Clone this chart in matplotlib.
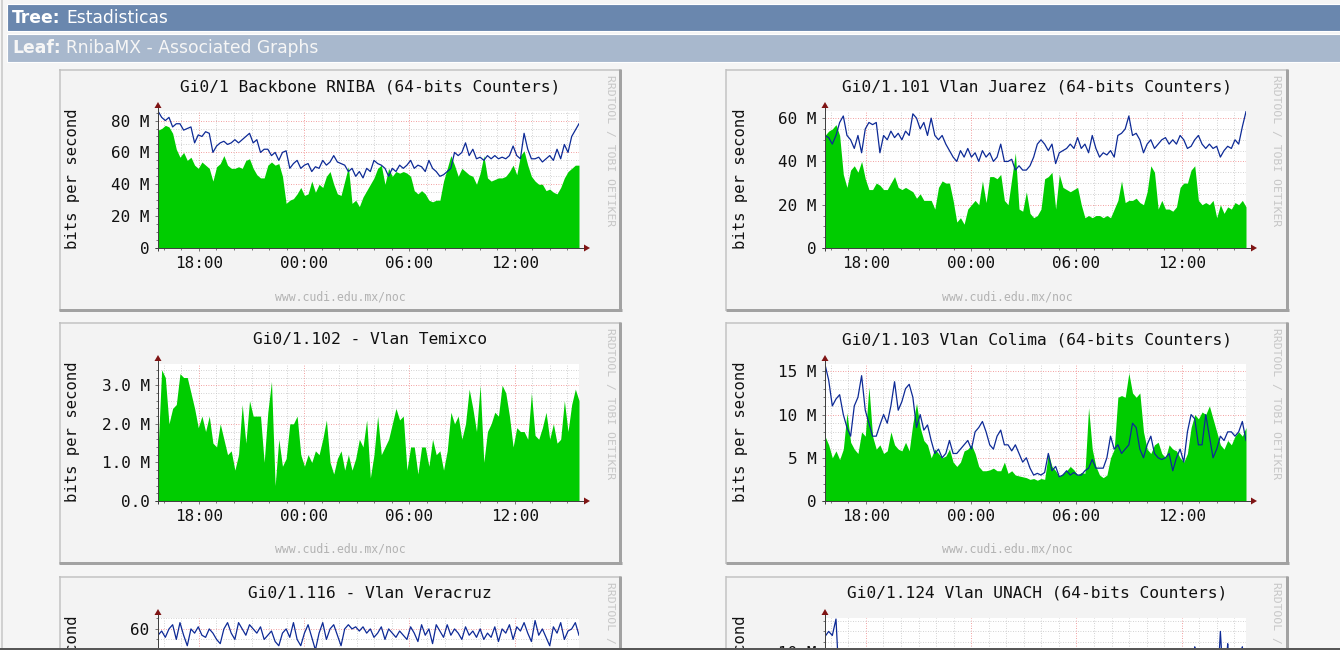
import numpy as np
import matplotlib
matplotlib.use('Agg')
import matplotlib.pyplot as plt
from matplotlib.patches import Rectangle, Polygon
from matplotlib.lines import Line2D

W, H = 1340, 650

# ------------------------------ data ------------------------------#
# time axis: 24 h window starting 15:40, labels every 6 h
start_hour = 15 + 40 / 60
x_labels = ['18:00', '00:00', '06:00', '12:00']
x_label_hours = [18, 0, 6, 12]

# Gi0/1 Backbone RNIBA (Mbit/s)
backbone_in = [74, 75, 77, 76, 72, 62, 57, 60, 55, 57, 52, 50, 54, 52, 50, 42, 51, 53, 58, 52,
               50, 50, 51, 50, 55, 56, 50, 46, 44, 44, 52, 54, 52, 53, 45, 28, 30, 31, 34, 38,
               33, 34, 42, 35, 40, 38, 45, 48, 40, 34, 33, 42, 51, 28, 30, 26, 32, 36, 40, 44,
               50, 52, 40, 50, 45, 48, 47, 48, 47, 45, 36, 34, 36, 34, 30, 29, 30, 30, 42, 50,
               58, 52, 45, 50, 48, 46, 45, 40, 47, 58, 44, 42, 43, 44, 44, 45, 48, 52, 46, 58,
               61, 52, 45, 42, 40, 40, 36, 37, 35, 34, 38, 44, 48, 50, 52, 52]
backbone_out = [86, 82, 80, 82, 76, 78, 78, 74, 75, 76, 66, 71, 70, 73, 72, 60, 64, 66, 67, 65,
                66, 68, 66, 68, 70, 72, 66, 68, 60, 62, 62, 58, 60, 55, 60, 61, 50, 53, 55, 50,
                52, 53, 48, 51, 50, 55, 52, 54, 58, 54, 53, 52, 48, 50, 45, 48, 44, 50, 48, 55,
                53, 52, 50, 45, 50, 48, 52, 50, 52, 55, 50, 52, 51, 48, 55, 50, 48, 45, 46, 48,
                50, 60, 58, 60, 66, 58, 62, 56, 57, 55, 58, 56, 58, 56, 57, 56, 58, 64, 58, 56,
                72, 62, 56, 56, 57, 54, 56, 58, 55, 62, 56, 65, 60, 70, 74, 78]
backbone_ylabels = ['0', '20 M', '40 M', '60 M', '80 M']

# Gi0/1.101 Vlan Juarez (Mbit/s)
juarez_in = [52, 54, 55, 57, 52, 34, 28, 36, 38, 35, 40, 32, 27, 27, 30, 29, 27, 27, 30, 33,
             28, 27, 28, 27, 26, 23, 25, 22, 22, 22, 18, 28, 31, 30, 30, 22, 12, 14, 11, 18,
             20, 22, 20, 31, 21, 33, 33, 32, 34, 22, 20, 32, 44, 18, 17, 26, 16, 14, 15, 18,
             32, 33, 35, 18, 34, 28, 27, 26, 27, 28, 20, 14, 15, 14, 15, 15, 14, 15, 14, 18,
             22, 31, 21, 22, 22, 23, 21, 20, 26, 38, 35, 18, 22, 18, 18, 17, 19, 28, 30, 30,
             36, 38, 22, 20, 21, 20, 22, 14, 20, 16, 19, 18, 21, 20, 22, 19]
juarez_out = [52, 51, 48, 52, 58, 61, 52, 50, 46, 52, 44, 55, 58, 57, 58, 44, 52, 50, 54, 51,
              53, 50, 54, 52, 62, 60, 55, 58, 52, 60, 52, 50, 52, 48, 45, 42, 40, 45, 42, 46,
              42, 44, 40, 45, 42, 44, 40, 42, 48, 40, 40, 41, 36, 38, 36, 36, 38, 42, 48, 50,
              48, 45, 48, 39, 44, 45, 46, 48, 46, 51, 46, 48, 44, 52, 46, 42, 44, 43, 45, 42,
              52, 53, 55, 61, 52, 53, 50, 44, 48, 50, 46, 48, 50, 51, 48, 50, 48, 52, 50, 46,
              47, 50, 52, 48, 46, 48, 46, 47, 42, 45, 47, 46, 50, 48, 56, 63]
juarez_ylabels = ['0', '20 M', '40 M', '60 M']

# Gi0/1.102 - Vlan Temixco (Mbit/s)
temixco_in = [1.3, 3.4, 3.2, 2.0, 2.4, 2.5, 3.3, 3.2, 3.2, 2.8, 2.4, 1.9, 2.2, 1.8, 2.2, 1.5,
              1.4, 2.0, 1.6, 1.2, 1.3, 0.8, 1.2, 2.5, 1.5, 2.6, 2.2, 2.2, 2.2, 1.0, 2.3, 3.1,
              0.4, 1.6, 0.9, 1.1, 2.0, 2.0, 2.2, 1.2, 0.9, 1.2, 1.0, 1.3, 1.2, 1.6, 2.1, 1.0,
              0.7, 1.1, 1.3, 0.8, 1.2, 0.8, 1.1, 1.6, 1.4, 2.1, 0.6, 1.2, 2.2, 1.2, 1.4, 1.6,
              2.0, 2.4, 2.1, 2.2, 0.8, 1.4, 1.4, 0.7, 1.4, 1.4, 0.9, 1.6, 1.2, 1.3, 0.8, 1.3,
              2.3, 2.0, 2.2, 1.6, 2.0, 2.9, 2.4, 1.8, 3.0, 1.0, 1.8, 2.0, 2.3, 2.2, 3.0, 2.8,
              2.2, 1.4, 1.9, 1.8, 1.8, 1.6, 2.8, 1.7, 1.6, 1.9, 2.3, 1.6, 2.0, 1.5, 1.6, 2.6,
              1.8, 2.5, 2.9, 2.6]
temixco_ylabels = ['0.0', '1.0 M', '2.0 M', '3.0 M']

# Gi0/1.103 Vlan Colima (Mbit/s)
colima_in = [7.5, 6.5, 5.0, 5.8, 4.8, 6.0, 10.2, 6.8, 6.0, 5.5, 8.0, 7.5, 13.2, 7.5, 6.0, 6.5,
             5.5, 5.8, 8.0, 6.5, 6.0, 5.8, 6.8, 5.8, 9.0, 11.3, 8.5, 7.0, 6.5, 5.0, 6.0, 5.5,
             5.0, 5.2, 6.0, 4.5, 4.0, 4.5, 5.8, 6.0, 6.5, 5.5, 4.0, 3.5, 3.5, 3.6, 3.8, 3.5,
             3.5, 4.5, 3.2, 3.5, 3.0, 2.9, 2.8, 2.7, 2.5, 2.6, 2.4, 2.6, 2.5, 5.5, 4.0, 3.5,
             2.8, 3.2, 3.5, 4.0, 3.6, 3.0, 3.3, 3.2, 10.8, 6.0, 4.0, 3.0, 2.7, 3.0, 5.0, 6.0,
             12.0, 12.2, 12.0, 14.8, 12.5, 12.0, 12.5, 8.0, 6.0, 5.5, 6.5, 6.8, 5.5, 5.0, 6.5, 6.0,
             5.8, 5.0, 4.5, 5.5, 8.5, 10.0, 9.5, 10.3, 10.0, 11.0, 9.5, 8.0, 6.5, 6.0, 7.0, 6.5,
             7.5, 8.0, 7.5, 8.5]
colima_out = [15.8, 14.0, 11.0, 11.8, 12.3, 10.0, 8.5, 7.5, 11.0, 12.0, 14.5, 10.5, 9.0, 7.5, 7.5, 8.8,
              10.0, 9.0, 11.0, 13.8, 10.5, 11.5, 13.0, 13.5, 12.0, 8.5, 10.0, 8.2, 8.8, 7.0, 5.5, 6.0,
              5.0, 5.5, 7.0, 5.5, 5.5, 6.0, 6.5, 7.0, 6.0, 8.0, 8.5, 9.2, 8.0, 6.5, 6.0, 7.5,
              8.2, 6.5, 6.5, 5.8, 6.5, 5.5, 4.5, 5.0, 3.8, 3.0, 3.2, 3.0, 3.3, 5.5, 3.5, 4.0,
              2.8, 3.0, 3.5, 3.0, 3.3, 3.0, 3.0, 3.5, 3.8, 4.8, 3.8, 3.8, 3.8, 5.0, 7.5, 6.0,
              6.5, 5.5, 6.0, 6.5, 9.0, 8.5, 6.0, 5.0, 6.5, 7.5, 5.5, 5.0, 4.8, 5.0, 5.5, 3.5,
              5.0, 6.0, 4.5, 8.0, 10.0, 9.5, 6.5, 6.5, 10.0, 7.5, 5.0, 6.0, 7.5, 7.0, 8.0, 8.0,
              7.5, 8.0, 9.2, 7.0]
colima_ylabels = ['0', '5 M', '10 M', '15 M']

# Gi0/1.116 - Vlan Veracruz (bit/s)
veracruz_out = [57, 59, 56, 60, 62, 55, 63, 57, 52, 60, 58, 61, 57, 56, 60, 58, 55, 53, 60, 63,
                58, 55, 63, 60, 57, 62, 60, 58, 61, 55, 57, 59, 54, 52, 58, 60, 56, 63, 55, 52,
                58, 62, 56, 50, 58, 63, 55, 60, 62, 57, 52, 60, 62, 60, 61, 59, 61, 58, 60, 56,
                58, 61, 55, 60, 58, 56, 59, 57, 55, 61, 58, 54, 62, 57, 60, 53, 62, 59, 56, 62,
                57, 60, 58, 55, 61, 57, 59, 56, 60, 55, 58, 56, 61, 54, 60, 58, 62, 55, 61, 59,
                63, 58, 54, 64, 57, 60, 56, 52, 61, 58, 63, 55, 59, 60, 63, 57]
veracruz_ylabels = ['0', '20', '40', '60']

# Gi0/1.124 Vlan UNACH (Mbit/s)
unach_out = [11.5, 12.0, 11.6, 13.2, 6.2, 4.1, 3.6, 4.4, 3.9, 4.8, 3.5, 4.2, 3.8, 4.0, 4.6, 3.7,
             4.1, 3.9, 4.3, 3.6, 4.0, 4.5, 3.8, 4.2, 3.9, 4.1, 3.7, 4.4, 3.9, 4.0, 4.2, 3.8,
             4.6, 4.1, 3.9, 4.3, 3.7, 4.0, 4.2, 3.8, 4.1, 4.4, 3.9, 4.0, 3.6, 4.2, 4.5, 3.9,
             4.1, 3.8, 4.3, 4.0, 3.7, 4.2, 4.1, 3.9, 4.4, 4.0, 3.8, 4.1, 4.3, 3.9, 4.0, 4.2,
             3.7, 4.1, 4.5, 3.9, 4.0, 4.2, 3.8, 4.1, 4.4, 3.9, 4.0, 4.2, 3.8, 4.3, 4.1, 3.9,
             4.0, 4.4, 3.8, 4.2, 4.1, 3.9, 4.3, 4.0, 3.8, 4.2, 4.5, 4.1, 3.9, 4.2, 4.6, 4.0,
             4.3, 4.8, 5.2, 4.6, 5.0, 10.5, 5.5, 4.8, 5.1, 6.0, 5.4, 5.2, 12.0, 6.0, 10.8, 5.6,
             5.8, 6.2, 10.5, 6.0]
unach_ylabels = ['0', '5 M', '10 M']

GREEN = '#00cc00'
BLUE = '#0d2a96'
ARROW = '#7f1414'
MONO = 'DejaVu Sans Mono'


def fx(x):
    return x / W


def fy(y):
    return 1 - y / H


def lw(px):
    return px * 72 / 100


f = plt.figure(figsize=(W / 100, H / 100), dpi=100)
f.patch.set_facecolor('#f5f5f5')


def rect(x0, y0, x1, y1, z=-1, **kw):
    f.add_artist(Rectangle((fx(x0), fy(y1)), (x1 - x0) / W, (y1 - y0) / H,
                           transform=f.transFigure, zorder=z, **kw))


def line(x0, y0, x1, y1, color, width, z=2):
    f.add_artist(Line2D([fx(x0), fx(x1)], [fy(y0), fy(y1)], color=color,
                        linewidth=lw(width), transform=f.transFigure, zorder=z,
                        solid_capstyle='butt'))


def tri(points, color):
    f.add_artist(Polygon([(fx(a), fy(b)) for a, b in points], closed=True,
                         facecolor=color, edgecolor='none', transform=f.transFigure, zorder=3))


# --------------------------- page header ---------------------------#
line(2, 0, 2, 650, '#c6c6c6', 1.5)
rect(7, 3.5, 1341, 31, facecolor='#6a87ae', edgecolor='white', linewidth=0.8)
rect(7, 34, 1341, 61.5, facecolor='#a8b8cd', edgecolor='white', linewidth=0.8)
f.text(fx(12), fy(18), 'Tree:', family='DejaVu Sans', weight='bold', size=12.3,
       color='white', va='center')
f.text(fx(66), fy(18), 'Estadisticas', family='DejaVu Sans', size=12.3,
       color='white', va='center')
f.text(fx(12), fy(48), 'Leaf:', family='DejaVu Sans', weight='bold', size=12.3,
       color='#f6f6f6', va='center')
f.text(fx(66), fy(48), 'RnibaMX - Associated Graphs', family='DejaVu Sans', size=12.3,
       color='#f6f6f6', va='center')


# ----------------------------- graphs ------------------------------#
def draw_graph(bx, by, title, ylabels, ystep, yminor, ymax, green=None, blue=None):
    base = by + 179          # pixel row of the zero line
    # rrdtool image frame
    rect(bx, by, bx + 562, by + 242, facecolor='#f3f3f3', edgecolor='none')
    line(bx, by + 0.5, bx + 562, by + 0.5, '#c2c2c2', 1.5)
    line(bx + 0.5, by, bx + 0.5, by + 242, '#c2c2c2', 1.5)
    line(bx + 561, by, bx + 561, by + 242, '#a2a2a2', 3)
    line(bx, by + 240.5, bx + 562.5, by + 240.5, '#a2a2a2', 3)

    ax = f.add_axes([fx(bx + 99), fy(base), 421 / W, 137 / H])
    ax.set_facecolor('white')
    ax.set_xlim(0, 24)
    ax.set_ylim(0, ymax)
    for s in ax.spines.values():
        s.set_visible(False)

    major_x = [(h - start_hour) % 24 for h in x_label_hours]
    yticks = [i * ystep for i in range(len(ylabels))]
    ax.set_xticks(major_x)
    ax.set_xticks(np.arange(1 / 3, 24, 1), minor=True)
    ax.set_yticks(yticks)
    ax.set_yticks(np.arange(0, ymax, yminor), minor=True)
    # labels that would sit entirely below the window are left empty
    ax.set_xticklabels(x_labels if base + 20 < H else [''] * len(x_labels))
    ax.set_yticklabels([lab if base - v / ymax * 137 - 6 < H else ''
                        for v, lab in zip(yticks, ylabels)])
    ax.grid(True, which='minor', color='#c4c4c4', linestyle=(0, (1, 2)), linewidth=0.6)
    ax.grid(True, which='major', color='#ee8080', linestyle=(0, (1, 2)), linewidth=0.6)
    ax.set_axisbelow(True)
    ax.tick_params(which='both', direction='out', color='#606060', width=0.6,
                   labelsize=11.5, labelcolor='#111111')
    ax.tick_params(which='major', length=2.5)
    ax.tick_params(which='minor', length=1.5)
    ax.tick_params(axis='y', pad=3.5)
    ax.tick_params(axis='x', pad=3.0)
    for lab in ax.get_xticklabels() + ax.get_yticklabels():
        lab.set_family(MONO)

    if green is not None:
        t = np.linspace(0, 24, len(green))
        ax.fill_between(t, 0, green, color=GREEN, linewidth=0, zorder=2)
    if blue is not None:
        t = np.linspace(0, 24, len(blue))
        ax.plot(t, blue, color=BLUE, linewidth=0.9, zorder=3)

    # axes with arrow heads
    line(bx + 99, base + 3, bx + 99, by + 38, '#404040', 1)
    line(bx + 96, base, bx + 525, base, '#404040', 1)
    tri([(bx + 99, by + 33), (bx + 95.5, by + 39), (bx + 102.5, by + 39)], ARROW)
    tri([(bx + 531, base), (bx + 525, base - 3.5), (bx + 525, base + 3.5)], ARROW)

    f.text(fx(bx + 311), fy(by + 17.5), title, family=MONO, size=11.7,
           ha='center', va='center', color='#111111')
    f.text(fx(bx + 14), fy(by + 110), 'bits per second', family=MONO, size=11.2,
           rotation=90, ha='center', va='center', color='#111111')
    f.text(fx(bx + 550.5), fy(by + 6), 'RRDTOOL / TOBI OETIKER', family=MONO, size=8.2,
           rotation=-90, ha='center', va='top', color='#c6c6c6')
    if by + 235 < H:
        f.text(fx(bx + 281), fy(by + 227.5), 'www.cudi.edu.mx/noc', family=MONO, size=8.3,
               ha='center', va='center', color='#b2b2b2')
    return ax


draw_graph(59, 69, 'Gi0/1 Backbone RNIBA (64-bits Counters)', backbone_ylabels,
           20, 5, 86, backbone_in, backbone_out)
draw_graph(726, 69, 'Gi0/1.101 Vlan Juarez (64-bits Counters)', juarez_ylabels,
           20, 5, 63.3, juarez_in, juarez_out)
draw_graph(59, 322, 'Gi0/1.102 - Vlan Temixco', temixco_ylabels,
           1.0, 0.2, 3.55, temixco_in)
draw_graph(726, 322, 'Gi0/1.103 Vlan Colima (64-bits Counters)', colima_ylabels,
           5, 1, 15.85, colima_in, colima_out)
draw_graph(59, 576, 'Gi0/1.116 - Vlan Veracruz', veracruz_ylabels,
           20, 5, 65.2, None, veracruz_out)
draw_graph(726, 576, 'Gi0/1.124 Vlan UNACH (64-bits Counters)', unach_ylabels,
           5, 1, 13.3, None, unach_out)

# window edge at the bottom
rect(0, 647.5, 1341, 651, z=20, facecolor='#575757', edgecolor='none')

plt.savefig('out.png', dpi=100, facecolor=f.get_facecolor())
